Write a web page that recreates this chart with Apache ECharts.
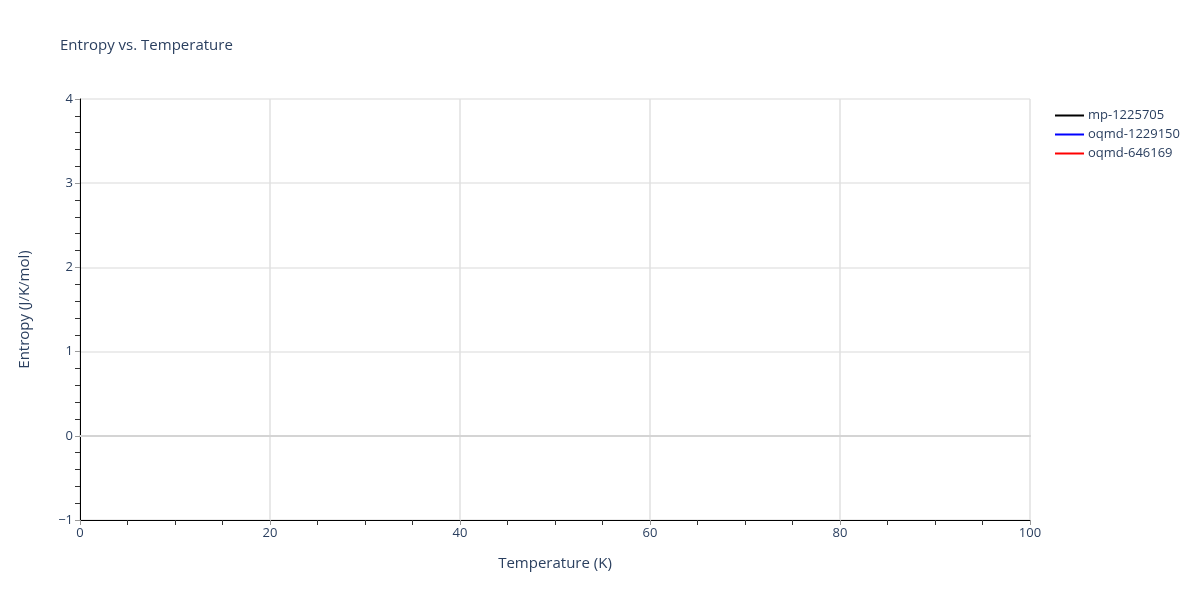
<!DOCTYPE html>
<html>
<head>
<meta charset="utf-8">
<script src="https://cdn.jsdelivr.net/npm/echarts@6/dist/echarts.min.js"></script>
<style>html,body{margin:0;padding:0;background:#fff;}#c{width:1200px;height:600px;}</style>
</head>
<body>
<div id="c"></div>
<script>
const seriesNames = ['mp-1225705', 'oqmd-1229150', 'oqmd-646169'];
const seriesColors = ['#000000', '#0000ff', '#ff0000'];
const mp1225705 = [];
const oqmd1229150 = [];
const oqmd646169 = [];
const seriesData = [mp1225705, oqmd1229150, oqmd646169];
const xRange = [0, 100];
const yRange = [-1, 4];

const font = '"Open Sans", verdana, arial, sans-serif';
const txt = '#2a3f5f';
const chart = echarts.init(document.getElementById('c'));
chart.setOption({
  backgroundColor: '#fff',
  animation: false,
  textStyle: { fontFamily: font },
  title: {
    text: 'Entropy vs. Temperature',
    left: 60, top: 38, padding: 0,
    textStyle: { fontFamily: font, fontSize: 15, fontWeight: 'normal', color: txt }
  },
  legend: {
    orient: 'vertical',
    left: 1050, top: 104,
    itemWidth: 29, itemHeight: 2, itemGap: 6,
    icon: 'rect',
    textStyle: { fontFamily: font, fontSize: 13, color: txt, padding: [0, 0, 0, -1] },
    data: seriesNames
  },
  grid: { left: 80, right: 170, top: 99, bottom: 80 },
  xAxis: [{
    type: 'value', min: xRange[0], max: xRange[1], interval: 20,
    name: 'Temperature (K)', nameLocation: 'middle', nameGap: 36,
    nameTextStyle: { fontFamily: font, fontSize: 15, color: txt },
    axisLine: { show: true, onZero: false, lineStyle: { color: '#000', width: 1 } },
    axisTick: { show: true, length: 5, lineStyle: { color: '#999' } },
    minorTick: { show: true, splitNumber: 4, length: 5, lineStyle: { color: '#333' } },
    axisLabel: { fontFamily: font, fontSize: 13, color: txt, margin: 7 },
    splitLine: { show: true, lineStyle: { color: '#e0e0e0', width: 1.5 } }
  }, {
    type: 'value', min: xRange[0], max: xRange[1], position: 'bottom',
    axisLine: { show: true, onZero: true, onZeroAxisIndex: 0, lineStyle: { color: '#d4d4d4', width: 2 } },
    axisTick: { show: false }, axisLabel: { show: false }, splitLine: { show: false }
  }],
  yAxis: {
    type: 'value', min: yRange[0], max: yRange[1], interval: 1,
    name: 'Entropy (J/K/mol)', nameLocation: 'middle', nameGap: 48,
    nameTextStyle: { fontFamily: font, fontSize: 15, color: txt },
    axisLine: { show: true, onZero: false, lineStyle: { color: '#000', width: 1 } },
    axisTick: { show: true, length: 5, lineStyle: { color: '#999' } },
    minorTick: { show: true, splitNumber: 5, length: 5, lineStyle: { color: '#333' } },
    axisLabel: { fontFamily: font, fontSize: 13, color: txt, margin: 7,
      formatter: v => (v < 0 ? '\u2212' + Math.abs(v) : String(v)) },
    splitLine: { show: true, lineStyle: { color: '#e6e6e6', width: 1.5 } }
  },
  series: seriesNames.map((n, i) => ({
    name: n, type: 'line', data: seriesData[i], showSymbol: false, symbol: 'none',
    xAxisIndex: 0,
    color: seriesColors[i], lineStyle: { color: seriesColors[i], width: 2 }
  }))
});
</script>
</body>
</html>
